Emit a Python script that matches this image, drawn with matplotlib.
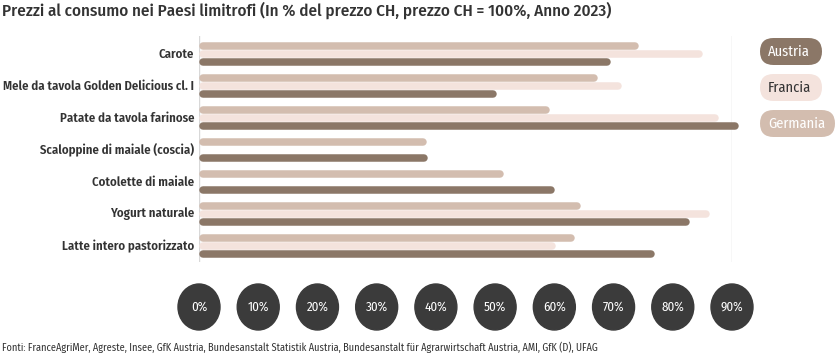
import matplotlib
matplotlib.use("Agg")
import matplotlib.pyplot as plt
from matplotlib.patches import Ellipse, FancyBboxPatch

categories = ["Carote", "Mele da tavola Golden Delicious cl. I", "Patate da tavola farinose",
              "Scaloppine di maiale (coscia)", "Cotolette di maiale", "Yogurt naturale",
              "Latte intero pastorizzato"]
germania = [74.3, 67.4, 59.3, 38.5, 51.5, 64.4, 63.5]
francia = [85.1, 71.3, 87.8, None, None, 86.3, 60.3]
austria = [69.6, 50.3, 91.2, 38.7, 60.0, 82.9, 76.9]
series_names = ["Austria", "Francia", "Germania"]
tick_values = [0, 10, 20, 30, 40, 50, 60, 70, 80, 90]
tick_labels = ["0%", "10%", "20%", "30%", "40%", "50%", "60%", "70%", "80%", "90%"]
title = "Prezzi al consumo nei Paesi limitrofi (In % del prezzo CH, prezzo CH = 100%, Anno 2023)"
source = ("Fonti: FranceAgriMer, Agreste, Insee, GfK Austria, Bundesanstalt Statistik Austria, "
          "Bundesanstalt für Agrarwirtschaft Austria, AMI, GfK (D), UFAG")

C_AUT = "#8b7767"
C_FRA = "#f4e3dd"
C_GER = "#d3bdaf"
C_TICK = "#3b3b3b"
C_TXT = "#333333"
FONT = ["Fira Sans Condensed", "Roboto Condensed", "DejaVu Sans"]

W, H = 836, 364
fig = plt.figure(figsize=(W / 100, H / 100), dpi=100)

def fr(x0, y0, x1, y1):
    return [x0 / W, 1 - y1 / H, (x1 - x0) / W, (y1 - y0) / H]

ax = fig.add_axes(fr(199, 36, 732, 262))
ax.set_xlim(0, 90)
ax.set_ylim(6.5, -0.5625)
ax.axis("off")

ax.axvline(0, color="#d8d8d8", lw=1)
ax.axvline(90, color="#d8d8d8", lw=1)

bar_px = 7.5
lw_pt = bar_px * 0.72
r = (bar_px / 2) * 90 / (732 - 199)
offsets = {"Germania": -0.25, "Francia": 0.0, "Austria": 0.25}
data = {"Germania": germania, "Francia": francia, "Austria": austria}
colors = {"Germania": C_GER, "Francia": C_FRA, "Austria": C_AUT}
for name in ["Germania", "Francia", "Austria"]:
    for i, v in enumerate(data[name]):
        if v is None:
            continue
        y = i + offsets[name]
        ax.plot([r, v - r], [y, y], color=colors[name], lw=lw_pt,
                solid_capstyle="round", zorder=2, clip_on=False)

for i, c in enumerate(categories):
    ax.text(-0.8, i, c, ha="right", va="center", fontsize=9.2, fontweight="semibold",
            color=C_TXT, family=FONT)

# tick bubbles
axt = fig.add_axes(fr(199, 284, 732, 330))
axt.set_xlim(0, 90)
axt.set_ylim(0, 1)
axt.axis("off")
ew = 42 * 90 / (732 - 199)
for v, lab in zip(tick_values, tick_labels):
    axt.add_patch(Ellipse((v, 0.5), ew, 1.0, color=C_TICK, clip_on=False))
    axt.text(v, 0.5, lab, ha="center", va="center", color="white", fontsize=9.3,
             family=FONT)

# overlay in pixel coordinates
ov = fig.add_axes([0, 0, 1, 1])
ov.set_xlim(0, W)
ov.set_ylim(H, 0)
ov.axis("off")

legend_boxes = {"Austria": (760, 38, 62), "Francia": (760, 74, 62), "Germania": (760, 110, 75)}
legend_text = {"Austria": "white", "Francia": C_TXT, "Germania": "white"}
for name in series_names:
    x0, y0, w = legend_boxes[name]
    h = 27
    ov.add_patch(FancyBboxPatch((x0, y0), w, h,
                                boxstyle=f"round,pad=0,rounding_size={h/2}",
                                facecolor=colors[name], edgecolor="none"))
    ov.text(x0 + 8, y0 + h / 2 + 0.5, name, ha="left", va="center", fontsize=10.4,
            color=legend_text[name], family=FONT)

ov.text(2, 10, title, ha="left", va="center", fontsize=12.3, fontweight="medium",
        color=C_TXT, family=FONT)
ov.text(2, 348, source, ha="left", va="center", fontsize=7.4, color=C_TXT, family=FONT)

fig.savefig("out.png", dpi=100, facecolor="white")
